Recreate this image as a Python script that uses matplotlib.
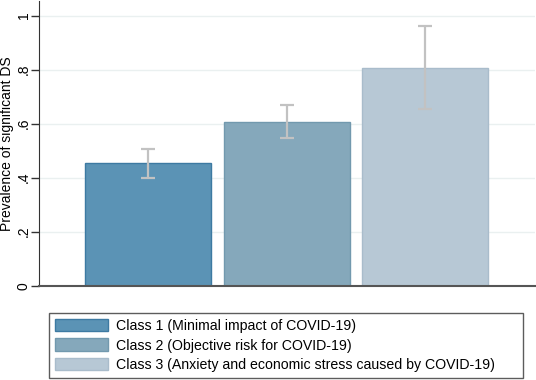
import matplotlib
matplotlib.use('Agg')
import matplotlib.pyplot as plt
from matplotlib.patches import Patch

plt.rcParams['font.family'] = ['Liberation Sans', 'DejaVu Sans']

# Data
classes = [
    'Class 1 (Minimal impact of COVID-19)',
    'Class 2 (Objective risk for COVID-19)',
    'Class 3 (Anxiety and economic stress caused by COVID-19)',
]
prevalence = [0.453, 0.607, 0.807]
ci_low = [0.399, 0.546, 0.653]
ci_high = [0.506, 0.669, 0.963]
yticks = [0, 0.2, 0.4, 0.6, 0.8, 1.0]
ytick_labels = ['0', '.2', '.4', '.6', '.8', '1']

face_colors = ['#5b93b5', '#85a8bb', '#b7c8d5']
edge_colors = ['#3d7aa2', '#7299ae', '#a9bccb']

fig = plt.figure(figsize=(5.36, 3.80), dpi=100)
W, H = 536, 380
ax = fig.add_axes([39 / W, 1 - 285.7 / H, (535 - 39) / W, (285.7 - 1) / H])

xs = [1, 2, 3]
for x, v, lo, hi, fc, ec in zip(xs, prevalence, ci_low, ci_high, face_colors, edge_colors):
    ax.bar(x, v, width=0.908, color=fc, edgecolor=ec, linewidth=1.0, zorder=2)
    ax.errorbar(x, v, yerr=[[v - lo], [hi - v]], fmt='none', ecolor='#c2c2c2',
                elinewidth=1.6, capsize=5, capthick=1.6, zorder=3)

ax.set_xlim(0.214, 3.79)
ax.set_ylim(0, 1.054)
ax.set_xticks([])
ax.set_yticks(yticks)
ax.set_yticklabels(ytick_labels, rotation=90, va='center', ha='center')
ax.tick_params(axis='y', length=6, width=1, color='#333333', labelsize=10, pad=5)
ax.grid(axis='y', color='#eaf0f0', linewidth=1, zorder=0)
ax.set_axisbelow(True)
ax.spines['top'].set_visible(False)
ax.spines['right'].set_visible(False)
ax.spines['left'].set_color('#333333')
ax.spines['bottom'].set_color('#555555')
ax.spines['bottom'].set_linewidth(1.5)
ax.set_ylabel('Prevalence of significant DS', fontsize=10)
ax.yaxis.set_label_coords((14 - 39) / 496, 0.5)

handles = [Patch(facecolor=fc, edgecolor=ec, linewidth=1.0)
           for fc, ec in zip(face_colors, edge_colors)]
leg = fig.legend(handles, classes, loc='lower left',
                 bbox_to_anchor=(49 / W, 2 / H, (523 - 49) / W, 0.17),
                 mode='expand', ncol=1, fontsize=10.2, frameon=True, fancybox=False,
                 handlelength=3.73, handleheight=0.99, handletextpad=0.55,
                 labelspacing=0.38, borderpad=0.42, borderaxespad=0)
leg.get_frame().set_edgecolor('#333333')
leg.get_frame().set_linewidth(1.0)

fig.savefig('out.png', dpi=100, facecolor='white')
